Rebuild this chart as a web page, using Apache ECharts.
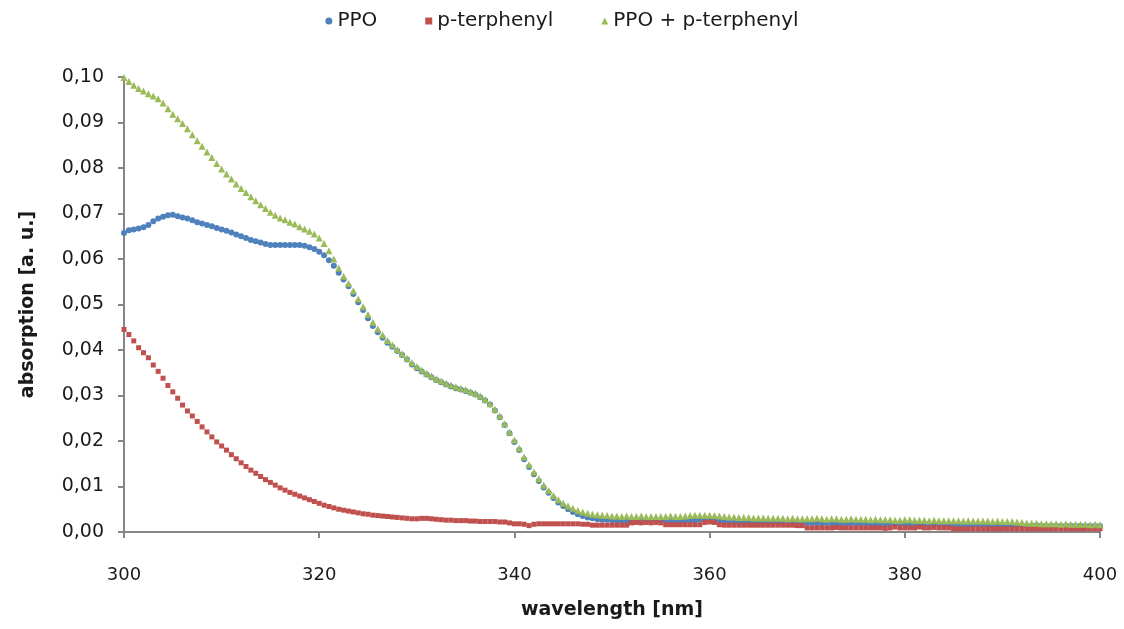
<!DOCTYPE html>
<html>
<head>
<meta charset="utf-8">
<title>absorption spectra</title>
<script src="https://cdn.jsdelivr.net/npm/echarts@6/dist/echarts.min.js"></script>
<style>
  html, body { margin: 0; padding: 0; background: #fff; }
  #chart { width: 1124px; height: 629px; }
</style>
</head>
<body>
<div id="chart"></div>
<script>
// ============================================================
// data (step 0.5 nm, 300..400 nm)
// ============================================================
const seriesNames = ['PPO', 'p-terphenyl', 'PPO + p-terphenyl']

const wavelengthStart = 300
const wavelengthStep = 0.5

const ppo = [
  0.0657, 0.0663, 0.0665, 0.0667, 0.0670, 0.0675, 0.0683, 0.0689, 0.0693, 0.0696,
  0.0697, 0.0694, 0.0691, 0.0689, 0.0685, 0.0681, 0.0678, 0.0675, 0.0672, 0.0668,
  0.0665, 0.0662, 0.0658, 0.0654, 0.0650, 0.0646, 0.0642, 0.0639, 0.0636, 0.0633,
  0.0631, 0.0631, 0.0631, 0.0631, 0.0631, 0.0631, 0.0631, 0.0629, 0.0626, 0.0622,
  0.0616, 0.0608, 0.0597, 0.0585, 0.0570, 0.0555, 0.0540, 0.0523, 0.0505, 0.0488,
  0.0470, 0.0453, 0.0439, 0.0427, 0.0416, 0.0407, 0.0398, 0.0389, 0.0379, 0.0368,
  0.0360, 0.0353, 0.0346, 0.0340, 0.0334, 0.0329, 0.0324, 0.0320, 0.0316, 0.0313,
  0.0310, 0.0306, 0.0302, 0.0296, 0.0289, 0.0280, 0.0267, 0.0252, 0.0235, 0.0217,
  0.0198, 0.0180, 0.0160, 0.0143, 0.0127, 0.0112, 0.0098, 0.0086, 0.0075, 0.0065,
  0.0057, 0.0050, 0.0044, 0.0039, 0.0035, 0.0032, 0.0030, 0.0028, 0.0027, 0.0027,
  0.0026, 0.0025, 0.0025, 0.0024, 0.0024, 0.0025, 0.0024, 0.0024, 0.0025, 0.0024,
  0.0024, 0.0024, 0.0025, 0.0024, 0.0024, 0.0024, 0.0025, 0.0026, 0.0027, 0.0028,
  0.0029, 0.0028, 0.0026, 0.0024, 0.0023, 0.0023, 0.0022, 0.0022, 0.0023, 0.0022,
  0.0022, 0.0022, 0.0021, 0.0022, 0.0022, 0.0021, 0.0021, 0.0022, 0.0021, 0.0021,
  0.0020, 0.0020, 0.0019, 0.0019, 0.0020, 0.0019, 0.0019, 0.0019, 0.0018, 0.0019,
  0.0019, 0.0018, 0.0019, 0.0018, 0.0018, 0.0019, 0.0018, 0.0018, 0.0018, 0.0019,
  0.0018, 0.0018, 0.0018, 0.0017, 0.0018, 0.0017, 0.0018, 0.0017, 0.0017, 0.0017,
  0.0016, 0.0016, 0.0016, 0.0015, 0.0016, 0.0016, 0.0015, 0.0016, 0.0015, 0.0015,
  0.0015, 0.0015, 0.0015, 0.0014, 0.0015, 0.0014, 0.0014, 0.0015, 0.0014, 0.0014,
  0.0014, 0.0014, 0.0013, 0.0014, 0.0014, 0.0013, 0.0014, 0.0013, 0.0013, 0.0013,
  0.0013
]

const terphenyl = [
  0.0445, 0.0434, 0.0420, 0.0405, 0.0394, 0.0383, 0.0367, 0.0353, 0.0338, 0.0322,
  0.0308, 0.0294, 0.0279, 0.0266, 0.0255, 0.0243, 0.0231, 0.0220, 0.0209, 0.0198,
  0.0189, 0.0180, 0.0170, 0.0161, 0.0152, 0.0144, 0.0136, 0.0129, 0.0122, 0.0115,
  0.0109, 0.0103, 0.0097, 0.0092, 0.0087, 0.0083, 0.0079, 0.0075, 0.0071, 0.0067,
  0.0063, 0.0059, 0.0056, 0.0053, 0.0050, 0.0048, 0.0046, 0.0044, 0.0042, 0.0040,
  0.0039, 0.0037, 0.0036, 0.0035, 0.0034, 0.0033, 0.0032, 0.0031, 0.0030, 0.0029,
  0.0029, 0.0030, 0.0030, 0.0029, 0.0028, 0.0027, 0.0026, 0.0026, 0.0025, 0.0025,
  0.0025, 0.0024, 0.0024, 0.0023, 0.0023, 0.0023, 0.0023, 0.0022, 0.0022, 0.0020,
  0.0018, 0.0018, 0.0017, 0.0014, 0.0017, 0.0018, 0.0018, 0.0018, 0.0018, 0.0018,
  0.0018, 0.0018, 0.0018, 0.0018, 0.0017, 0.0017, 0.0015, 0.0015, 0.0015, 0.0015,
  0.0015, 0.0015, 0.0015, 0.0015, 0.0020, 0.0021, 0.0020, 0.0021, 0.0020, 0.0021,
  0.0020, 0.0016, 0.0016, 0.0016, 0.0016, 0.0016, 0.0016, 0.0016, 0.0016, 0.0021,
  0.0022, 0.0021, 0.0016, 0.0015, 0.0015, 0.0015, 0.0015, 0.0015, 0.0015, 0.0015,
  0.0015, 0.0015, 0.0015, 0.0015, 0.0015, 0.0015, 0.0015, 0.0015, 0.0014, 0.0014,
  0.0009, 0.0009, 0.0009, 0.0009, 0.0009, 0.0009, 0.0010, 0.0009, 0.0009, 0.0009,
  0.0009, 0.0009, 0.0009, 0.0009, 0.0009, 0.0009, 0.0008, 0.0009, 0.0011, 0.0009,
  0.0009, 0.0009, 0.0009, 0.0011, 0.0009, 0.0009, 0.0010, 0.0009, 0.0009, 0.0009,
  0.0007, 0.0007, 0.0007, 0.0007, 0.0007, 0.0007, 0.0007, 0.0007, 0.0007, 0.0007,
  0.0007, 0.0007, 0.0007, 0.0007, 0.0007, 0.0007, 0.0007, 0.0007, 0.0007, 0.0007,
  0.0007, 0.0007, 0.0007, 0.0007, 0.0007, 0.0007, 0.0007, 0.0007, 0.0007, 0.0007,
  0.0007
]

const ppoTerphenyl = [
  0.0999, 0.0990, 0.0982, 0.0975, 0.0969, 0.0963, 0.0958, 0.0952, 0.0943, 0.0930,
  0.0918, 0.0908, 0.0898, 0.0886, 0.0873, 0.0860, 0.0848, 0.0835, 0.0823, 0.0810,
  0.0798, 0.0787, 0.0776, 0.0765, 0.0755, 0.0746, 0.0737, 0.0728, 0.0719, 0.0711,
  0.0703, 0.0696, 0.0690, 0.0686, 0.0681, 0.0677, 0.0671, 0.0666, 0.0661, 0.0655,
  0.0646, 0.0634, 0.0618, 0.0600, 0.0580, 0.0562, 0.0546, 0.0530, 0.0512, 0.0495,
  0.0478, 0.0461, 0.0446, 0.0433, 0.0421, 0.0411, 0.0401, 0.0392, 0.0382, 0.0372,
  0.0364, 0.0356, 0.0349, 0.0343, 0.0337, 0.0332, 0.0327, 0.0323, 0.0319, 0.0316,
  0.0313, 0.0309, 0.0305, 0.0299, 0.0291, 0.0282, 0.0270, 0.0255, 0.0238, 0.0220,
  0.0202, 0.0184, 0.0165, 0.0148, 0.0132, 0.0117, 0.0103, 0.0091, 0.0080, 0.0071,
  0.0063, 0.0057, 0.0052, 0.0047, 0.0044, 0.0041, 0.0039, 0.0038, 0.0037, 0.0036,
  0.0035, 0.0035, 0.0034, 0.0035, 0.0034, 0.0034, 0.0035, 0.0034, 0.0034, 0.0034,
  0.0034, 0.0034, 0.0035, 0.0034, 0.0034, 0.0035, 0.0036, 0.0037, 0.0037, 0.0037,
  0.0037, 0.0036, 0.0035, 0.0034, 0.0033, 0.0033, 0.0032, 0.0032, 0.0032, 0.0031,
  0.0031, 0.0031, 0.0030, 0.0030, 0.0030, 0.0030, 0.0029, 0.0030, 0.0029, 0.0029,
  0.0029, 0.0029, 0.0030, 0.0029, 0.0028, 0.0029, 0.0029, 0.0028, 0.0028, 0.0029,
  0.0028, 0.0028, 0.0028, 0.0027, 0.0028, 0.0027, 0.0027, 0.0027, 0.0026, 0.0026,
  0.0027, 0.0027, 0.0026, 0.0026, 0.0026, 0.0025, 0.0026, 0.0025, 0.0025, 0.0025,
  0.0025, 0.0025, 0.0024, 0.0025, 0.0024, 0.0024, 0.0024, 0.0024, 0.0023, 0.0024,
  0.0023, 0.0023, 0.0023, 0.0022, 0.0021, 0.0020, 0.0019, 0.0019, 0.0018, 0.0018,
  0.0018, 0.0018, 0.0017, 0.0018, 0.0017, 0.0017, 0.0017, 0.0017, 0.0016, 0.0017,
  0.0016
]

// axis ticks
const xTicks = [300, 320, 340, 360, 380, 400]
const yTicks = [0, 0.01, 0.02, 0.03, 0.04, 0.05, 0.06, 0.07, 0.08, 0.09, 0.10]

const colors = ['#4F81BD', '#C0504D', '#9BBB59']
const symbols = ['circle', 'rect', 'triangle']
const symbolSizes = [6, 5, 7]

// pair each value with its wavelength
function toPoints(values) {
  return values.map((v, i) => [wavelengthStart + i * wavelengthStep, v])
}

const chart = echarts.init(document.getElementById('chart'))

const FONT = 'DejaVu Sans'
const TEXT = '#1a1a1a'

const option = {
  backgroundColor: '#fff',
  animation: false,
  textStyle: { fontFamily: FONT },
  legend: {
    top: 6,
    left: 'center',
    itemGap: 48,
    itemWidth: 7,
    itemHeight: 7,
    textStyle: { fontFamily: FONT, fontSize: 20, color: TEXT },
    data: seriesNames
  },
  grid: { left: 124, right: 24, top: 77, bottom: 97 },
  xAxis: {
    type: 'value',
    min: xTicks[0],
    max: xTicks[xTicks.length - 1],
    interval: 20,
    name: 'wavelength [nm]',
    nameLocation: 'middle',
    nameGap: 69,
    nameTextStyle: { fontFamily: FONT, fontSize: 19, fontWeight: 'bold', color: TEXT },
    axisLine: { onZero: false, lineStyle: { color: '#868686', width: 2 } },
    axisTick: { show: true, length: 6, lineStyle: { color: '#868686', width: 2 } },
    axisLabel: { fontFamily: FONT, fontSize: 18, color: TEXT, margin: 34 },
    splitLine: { show: false }
  },
  yAxis: {
    type: 'value',
    min: yTicks[0],
    max: yTicks[yTicks.length - 1],
    interval: 0.01,
    name: 'absorption [a. u.]',
    nameLocation: 'middle',
    nameGap: 86,
    nameTextStyle: { fontFamily: FONT, fontSize: 19, fontWeight: 'bold', color: TEXT },
    axisLine: { show: true, lineStyle: { color: '#868686', width: 2 } },
    axisTick: { show: true, length: 6, lineStyle: { color: '#868686', width: 2 } },
    axisLabel: {
      fontFamily: FONT,
      fontSize: 19,
      color: TEXT,
      margin: 20,
      formatter: (v) => v.toFixed(2).replace('.', ',')
    },
    splitLine: { show: false }
  },
  series: [ppo, terphenyl, ppoTerphenyl].map((values, i) => ({
    name: seriesNames[i],
    type: 'scatter',
    symbol: symbols[i],
    symbolSize: symbolSizes[i],
    itemStyle: { color: colors[i], opacity: 1 },
    data: toPoints(values)
  }))
}

chart.setOption(option)
</script>
</body>
</html>
